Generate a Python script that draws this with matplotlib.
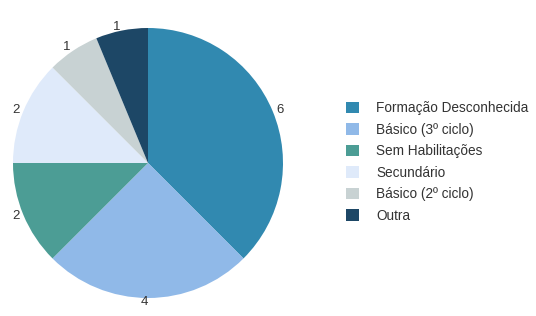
import matplotlib
import matplotlib.pyplot as plt

matplotlib.use('Agg')

labels = ['Formação Desconhecida', 'Básico (3º ciclo)', 'Sem Habilitações',
          'Secundário', 'Básico (2º ciclo)', 'Outra']
values = [6, 4, 2, 2, 1, 1]
colors = ['#3189b0', '#90b9e8', '#4c9d95', '#dfeafa', '#c8d2d3', '#1d4766']

plt.rcParams['font.family'] = ['Liberation Sans', 'DejaVu Sans']

fig = plt.figure(figsize=(5.36, 3.16), dpi=100)
ax = fig.add_axes([12 / 536, 1 - 298 / 316, 272 / 536, 270 / 316])

wedges, texts = ax.pie(values, colors=colors, startangle=90, counterclock=False,
                       labels=[str(v) for v in values], labeldistance=1.03,
                       textprops={'fontsize': 9.5, 'color': '#333333'},
                       wedgeprops={'linewidth': 0})
ax.set_aspect('equal')
ax.set_xlim(-1, 1)
ax.set_ylim(-1, 1)

fig.legend(wedges, labels, loc='upper left', bbox_to_anchor=(334 / 536, 1 - 89 / 316),
           frameon=False, fontsize=9.8, handlelength=0.9, handleheight=0.9,
           labelspacing=0.55, handletextpad=1.3, labelcolor='#333333')

fig.savefig('out.png', dpi=100)
